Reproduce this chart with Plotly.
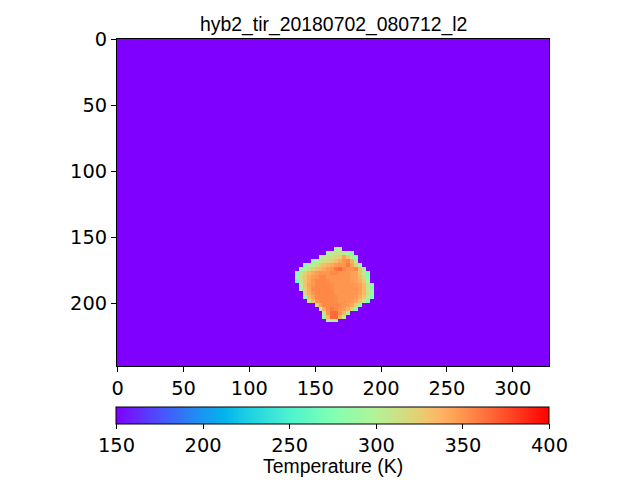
import numpy as np
import plotly.graph_objects as go

TITLE = "hyb2_tir_20180702_080712_l2"
CBAR_TITLE = "Temperature (K)"
WIDTH_CELLS = 328
HEIGHT_CELLS = 248
BACKGROUND = 150
X_TICKS = [0, 50, 100, 150, 200, 250, 300]
Y_TICKS = [0, 50, 100, 150, 200]
CBAR_TICKS = [150, 200, 250, 300, 350, 400]

BLOCK = 3
BLOB_COL0 = 135
BLOB_ROW0 = 158
row_first_cols = [10, 8, 6, 4, 2, 1, 0, 0, 0, 1, 1, 2, 2, 3, 5, 6, 7, 7, 8]
row00 = [295, 300]
row01 = [295, 305, 310, 310, 305, 295, 275]
row02 = [290, 305, 310, 312, 318, 325, 345, 330, 305, 280]
row03 = [285, 300, 308, 312, 318, 325, 332, 342, 350, 355, 340, 305]
row04 = [280, 298, 305, 312, 325, 332, 338, 342, 348, 350, 350, 360, 345, 320, 290]
row05 = [285, 300, 310, 325, 332, 338, 342, 348, 350, 360, 366, 355, 350, 350, 355, 330, 295]
row06 = [280, 310, 325, 335, 342, 348, 350, 350, 350, 355, 355, 350, 350, 350, 346, 345, 330, 305, 275]
row07 = [280, 315, 330, 342, 348, 350, 355, 355, 350, 350, 350, 350, 350, 350, 346, 345, 335, 318, 285]
row08 = [265, 310, 330, 342, 350, 355, 355, 355, 353, 350, 350, 350, 350, 350, 348, 345, 340, 325, 295]
row09 = [305, 330, 345, 350, 355, 355, 355, 355, 353, 350, 350, 350, 350, 350, 348, 345, 335, 310, 280]
row10 = [290, 325, 343, 353, 355, 355, 355, 355, 353, 350, 350, 350, 350, 350, 350, 347, 335, 312, 285]
row11 = [320, 340, 350, 355, 355, 355, 355, 355, 350, 350, 350, 350, 350, 350, 346, 335, 312, 285]
row12 = [285, 330, 345, 353, 355, 355, 355, 355, 353, 350, 350, 350, 350, 347, 340, 328, 305, 275]
row13 = [310, 335, 350, 355, 355, 355, 355, 353, 350, 350, 350, 347, 343, 330, 305, 275]
row14 = [320, 345, 355, 355, 355, 355, 353, 350, 347, 343, 325, 285]
row15 = [300, 340, 353, 360, 355, 350, 347, 340, 320, 280]
row16 = [305, 350, 365, 365, 350, 335, 295]
row17 = [285, 335, 365, 365, 340, 310]
row18 = [295, 305, 295]
blob_rows = [row00, row01, row02, row03, row04, row05, row06, row07, row08, row09,
             row10, row11, row12, row13, row14, row15, row16, row17, row18]

z = np.full((HEIGHT_CELLS, WIDTH_CELLS), BACKGROUND, dtype=float)
for r, (first, vals) in enumerate(zip(row_first_cols, blob_rows)):
    for i, v in enumerate(vals):
        c = first + i
        y0 = BLOB_ROW0 + r * BLOCK
        x0 = BLOB_COL0 + c * BLOCK
        z[y0:y0 + BLOCK, x0:x0 + BLOCK] = v

rainbow = [
    [0.0, "rgb(128,0,255)"], [0.1, "rgb(77,79,252)"], [0.2, "rgb(26,150,243)"],
    [0.25, "rgb(0,180,236)"], [0.3, "rgb(26,206,227)"], [0.4, "rgb(77,243,206)"],
    [0.5, "rgb(128,255,180)"], [0.6, "rgb(179,243,150)"], [0.7, "rgb(230,206,116)"],
    [0.75, "rgb(255,180,98)"], [0.8, "rgb(255,150,79)"], [0.9, "rgb(255,79,40)"],
    [1.0, "rgb(255,0,0)"],
]

TICK_FONT = dict(family="DejaVu Sans", size=19.4, color="black")
OFFSET = 8
L, R, T, B = 116.5 - OFFSET, 549.5 - OFFSET, 39 - OFFSET, 366 - OFFSET

fig = go.Figure(go.Heatmap(
    z=z, zmin=150, zmax=400, colorscale=rainbow, zsmooth=False, hoverongaps=False,
    colorbar=dict(
        orientation="h", x=0.5, xanchor="center", xref="paper",
        y=(B - (406.5 - OFFSET)) / (B - T), yanchor="top", yref="paper",
        len=R - L, lenmode="pixels", thickness=16.5, thicknessmode="pixels",
        xpad=0, ypad=0, outlinecolor="black", outlinewidth=1,
        tickmode="array", tickvals=CBAR_TICKS, ticks="outside", ticklen=5,
        tickwidth=1, tickcolor="black", tickfont=TICK_FONT,
    ),
))
axis = dict(showline=True, mirror=True, linecolor="black", linewidth=1, showgrid=False,
            zeroline=False, ticks="outside", ticklen=5, tickwidth=1, tickcolor="black",
            tickfont=TICK_FONT, tickmode="array")
fig.update_layout(
    width=640, height=480, paper_bgcolor="white", plot_bgcolor="white",
    margin=dict(l=L, r=640 - R, t=T, b=480 - B, autoexpand=False, pad=0),
    title=dict(text=TITLE, x=((L + R) / 2 - 4) / 640, xanchor="center", xref="paper",
               y=1 - 16 / 480, yanchor="middle",
               font=dict(family="Liberation Sans", size=19.4, color="black")),
    xaxis=dict(axis, range=[-0.5, 327.5], tickvals=X_TICKS),
    yaxis=dict(axis, range=[247.5, -0.5], tickvals=Y_TICKS),
    annotations=[dict(text=CBAR_TITLE, xref="paper", yref="paper", x=0.5, xanchor="center",
                      y=(B - (466 - OFFSET)) / (B - T), yanchor="middle", showarrow=False,
                      borderpad=0,
                      font=dict(family="Liberation Sans", size=19.4, color="black"))],
)
fig.write_html("out.html", config=dict(displayModeBar=False))
